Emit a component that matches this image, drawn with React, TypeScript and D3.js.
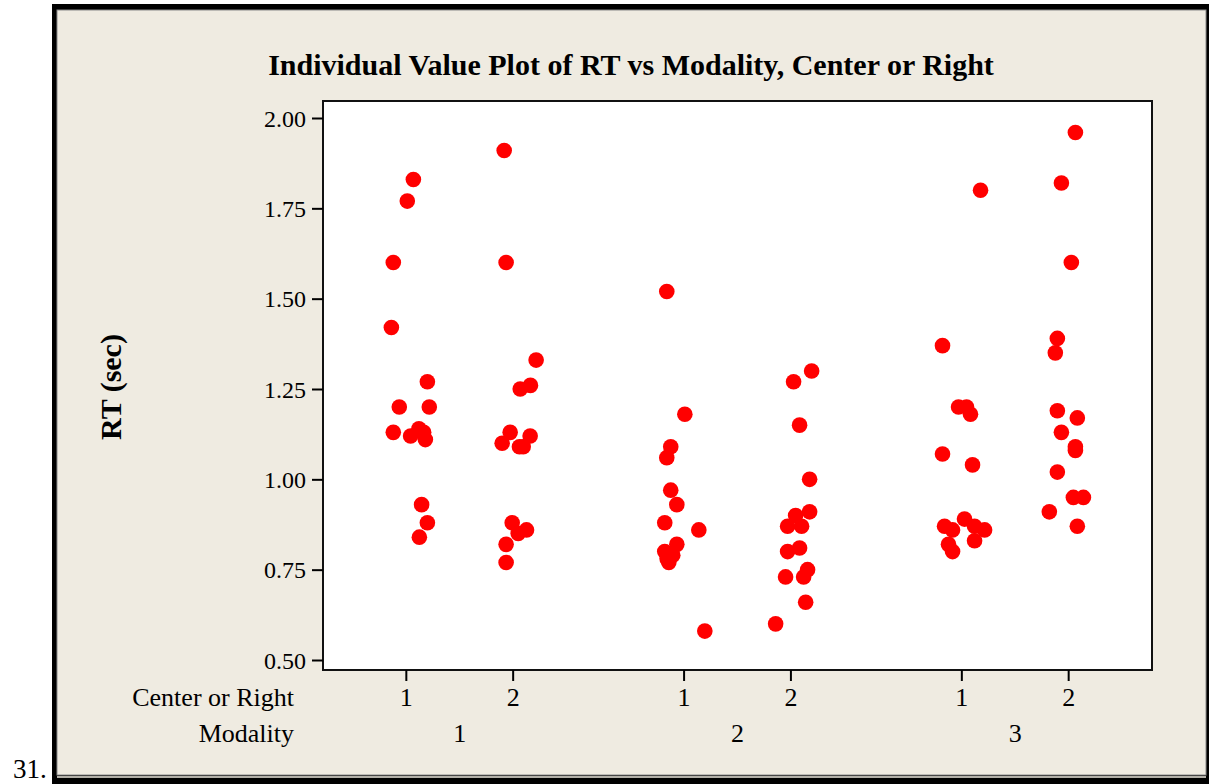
import React, { useRef, useEffect } from 'react';
import * as d3 from 'd3';

// RT values per Modality / Center-or-Right cell
const modality = ['1', '2', '3'];
const centerOrRight = ['1', '2'];
const slotPos = [0, 1, 2.6, 3.6, 5.2, 6.2];

const rt11 = [1.83, 1.77, 1.60, 1.42, 1.27, 1.20, 1.20, 1.13, 1.12, 1.14, 1.13, 1.11, 0.93, 0.88, 0.84];
const jit11 = [0.066, 0.009, -0.122, -0.14, 0.197, -0.066, 0.215, -0.122, 0.04, 0.118, 0.162, 0.178, 0.143, 0.197, 0.122];
const rt12 = [1.91, 1.60, 1.33, 1.25, 1.26, 1.13, 1.10, 1.12, 1.09, 1.09, 0.88, 0.86, 0.85, 0.82, 0.77];
const jit12 = [-0.084, -0.066, 0.215, 0.066, 0.162, -0.028, -0.103, 0.159, 0.094, 0.059, -0.009, 0.125, 0.047, -0.066, -0.066];
const rt21 = [1.52, 1.18, 1.09, 1.06, 0.97, 0.93, 0.88, 0.86, 0.82, 0.80, 0.79, 0.78, 0.77, 0.58];
const jit21 = [-0.162, 0.007, -0.125, -0.162, -0.125, -0.068, -0.181, 0.138, -0.068, -0.181, -0.106, -0.159, -0.143, 0.194];
const rt22 = [1.30, 1.27, 1.15, 1.00, 0.91, 0.90, 0.87, 0.87, 0.81, 0.80, 0.75, 0.73, 0.73, 0.66, 0.60];
const jit22 = [0.194, 0.025, 0.081, 0.175, 0.175, 0.044, -0.031, 0.1, 0.081, -0.031, 0.156, 0.119, -0.05, 0.138, -0.143];
const rt31 = [1.80, 1.37, 1.20, 1.20, 1.18, 1.07, 1.04, 0.89, 0.87, 0.86, 0.87, 0.86, 0.83, 0.82, 0.80];
const jit31 = [0.175, -0.181, -0.031, 0.044, 0.081, -0.181, 0.1, 0.025, -0.162, -0.087, 0.119, 0.213, 0.119, -0.125, -0.087];
const rt32 = [1.96, 1.82, 1.60, 1.39, 1.35, 1.19, 1.17, 1.13, 1.09, 1.08, 1.02, 0.95, 0.95, 0.91, 0.87];
const jit32 = [0.063, -0.068, 0.025, -0.106, -0.125, -0.106, 0.081, -0.068, 0.063, 0.063, -0.106, 0.044, 0.138, -0.181, 0.081];

const yTicks = [0.5, 0.75, 1.0, 1.25, 1.5, 1.75, 2.0];

const serif = '"Liberation Serif", "Times New Roman", serif';

export default function App() {
  const svgRef = useRef<SVGSVGElement>(null);

  useEffect(() => {
    const width = 1211;
    const height = 784;
    const svg = d3.select(svgRef.current)
      .attr('width', width)
      .attr('height', height);
    svg.selectAll('*').remove();

    const left = 323, right = 1152, top = 101, bottom = 670;

    // page + frame
    svg.append('rect').attr('width', width).attr('height', height).attr('fill', '#fff');
    svg.append('rect').attr('x', 52).attr('y', 4).attr('width', 1157).attr('height', 780).attr('fill', '#000');
    svg.append('rect').attr('x', 57).attr('y', 10).attr('width', 1149).attr('height', 765)
      .attr('fill', '#EFEBE1').attr('stroke', '#8a8a8a').attr('stroke-width', 1);
    svg.append('line').attr('x1', 57).attr('x2', 1206).attr('y1', 777).attr('y2', 777)
      .attr('stroke', '#EFEBE1').attr('stroke-width', 1.5);

    svg.append('text')
      .attr('x', 13).attr('y', 778)
      .style('font-family', serif).style('font-size', '27px')
      .text('31.');

    // title
    svg.append('text')
      .attr('x', 631).attr('y', 75)
      .attr('text-anchor', 'middle')
      .style('font-family', serif).style('font-size', '30px').style('font-weight', 'bold')
      .text('Individual Value Plot of RT vs Modality, Center or Right');

    // plot area
    svg.append('rect')
      .attr('x', left).attr('y', top).attr('width', right - left).attr('height', bottom - top)
      .attr('fill', '#fff').attr('stroke', '#111').attr('stroke-width', 2);

    const x = d3.scaleLinear().domain([-0.78, 6.98]).range([left, right]);
    const y = d3.scaleLinear().domain([0.5, 2.0]).range([660, 118]);

    // y axis
    const yAxis = d3.axisLeft(y)
      .tickValues(yTicks)
      .tickFormat(d3.format('.2f'))
      .tickSize(11)
      .tickPadding(6);
    const gy = svg.append('g').attr('transform', `translate(${left},0)`).call(yAxis);
    gy.select('.domain').remove();
    gy.selectAll('line').attr('stroke', '#000').attr('stroke-width', 2);
    gy.selectAll('text')
      .attr('fill', '#000')
      .attr('dy', '0.34em')
      .style('font-family', serif).style('font-size', '24px');

    svg.append('text')
      .attr('transform', `translate(121,387) rotate(-90)`)
      .attr('text-anchor', 'middle')
      .style('font-family', serif).style('font-size', '30px').style('font-weight', 'bold')
      .text('RT (sec)');

    // x axis: two rows of category labels
    const cellLabels = modality.flatMap(() => centerOrRight);
    svg.append('g')
      .selectAll('line')
      .data(slotPos)
      .join('line')
      .attr('x1', d => x(d)).attr('x2', d => x(d))
      .attr('y1', bottom).attr('y2', bottom + 11)
      .attr('stroke', '#000').attr('stroke-width', 2);

    svg.append('g')
      .selectAll('text')
      .data(slotPos)
      .join('text')
      .attr('x', d => x(d)).attr('y', 706)
      .attr('text-anchor', 'middle')
      .style('font-family', serif).style('font-size', '26px')
      .text((d, i) => cellLabels[i]);

    svg.append('g')
      .selectAll('text')
      .data(modality)
      .join('text')
      .attr('x', (d, i) => x((slotPos[i * 2] + slotPos[i * 2 + 1]) / 2)).attr('y', 742)
      .attr('text-anchor', 'middle')
      .style('font-family', serif).style('font-size', '26px')
      .text(d => d);

    svg.append('text')
      .attr('x', 294).attr('y', 706).attr('text-anchor', 'end')
      .style('font-family', serif).style('font-size', '26px')
      .text('Center or Right');
    svg.append('text')
      .attr('x', 294).attr('y', 742).attr('text-anchor', 'end')
      .style('font-family', serif).style('font-size', '26px')
      .text('Modality');

    // points
    const groups = [
      [rt11, jit11], [rt12, jit12],
      [rt21, jit21], [rt22, jit22],
      [rt31, jit31], [rt32, jit32],
    ];
    const pts = groups.flatMap(([vals, jit], gi) =>
      vals.map((v, i) => ({ pos: slotPos[gi] + jit[i], v })));

    svg.append('g')
      .selectAll('circle')
      .data(pts)
      .join('circle')
      .attr('cx', d => x(d.pos))
      .attr('cy', d => y(d.v))
      .attr('r', 7.8)
      .attr('fill', '#ff0000');
  }, []);

  return (
    <div style={{ position: 'fixed', left: 0, top: 0 }}>
      <svg ref={svgRef} style={{ display: 'block' }}></svg>
    </div>
  );
}
